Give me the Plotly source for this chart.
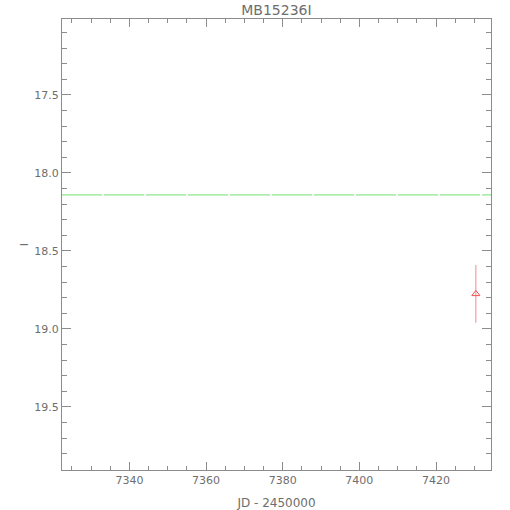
import plotly.graph_objects as go

# observation (JD - 2450000, I mag, error)
jd = [7430.4]
mag = [18.775]
err = [0.185]

baseline_mag = 18.14

x_range = [7322.4, 7434.35]
y_range = [19.904, 17.013]

grey = "#8c8c8c"
font = dict(family="DejaVu Sans", size=11, color="#6e6e6e")

fig = go.Figure()
fig.add_hline(y=baseline_mag, line=dict(color="#8ee68e", width=1.2, dash="40px,2px"))
fig.add_trace(go.Scatter(
    x=jd, y=mag, mode="markers",
    marker=dict(symbol="triangle-up-open", size=7, color="#f05050", line=dict(width=1)),
    error_y=dict(type="data", array=err, color="#f48a8a", thickness=1, width=0),
    showlegend=False,
))

axis_common = dict(
    showgrid=False, zeroline=False, showline=True, linecolor=grey, linewidth=1,
    mirror="ticks", ticks="inside", tickcolor=grey, tickfont=font, automargin=False,
)
fig.update_xaxes(range=x_range, dtick=20, tick0=7340, ticklen=8,
                 minor=dict(ticks="inside", dtick=5, tick0=7340, ticklen=4, tickcolor=grey),
                 title=dict(text="JD - 2450000", font=dict(font, size=12), standoff=13), **axis_common)
fig.update_yaxes(range=y_range, dtick=0.5, tick0=17.5, ticklen=9, tickformat=".1f",
                 minor=dict(ticks="inside", dtick=0.1, tick0=17.5, ticklen=5, tickcolor=grey),
                 title=dict(text="I", font=font, standoff=3), **axis_common)

fig.update_layout(
    width=510, height=510,
    margin=dict(l=62, r=19, t=19, b=40),
    paper_bgcolor="white", plot_bgcolor="white",
    title=dict(text="MB15236I", x=0.542, xanchor="center", y=0.980, yanchor="middle",
               font=dict(font, size=14)),
)

# drop the default body margin so the figure sits at the window corner
fig.write_html("out.html", config={"displayModeBar": False},
               post_script="document.body.style.margin='0';")
